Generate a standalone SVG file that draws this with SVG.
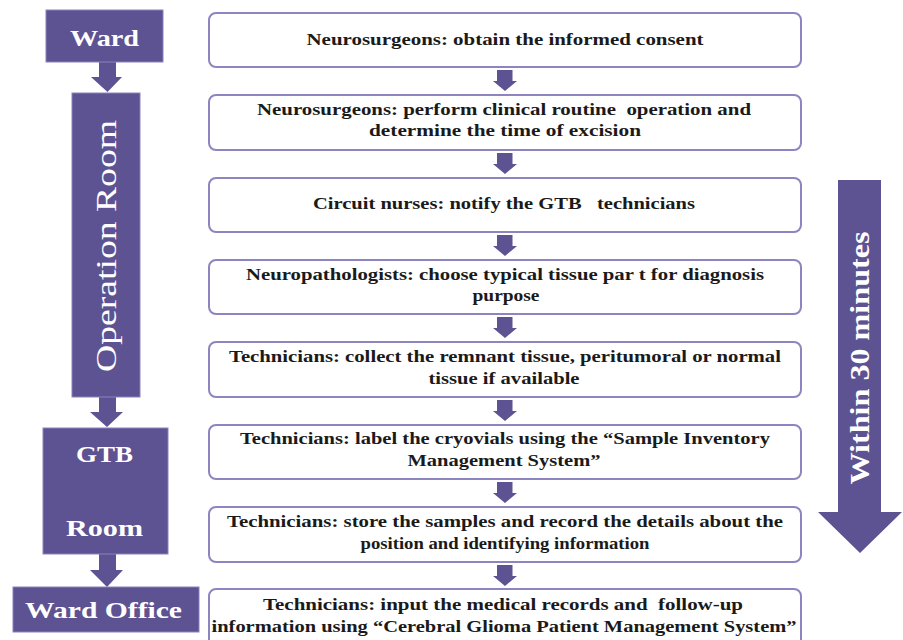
<svg xmlns="http://www.w3.org/2000/svg" width="903" height="640" viewBox="0 0 903 640">
<style>
.loc{fill:#5d5393;stroke:#8a84bd;stroke-width:1}
.arr{fill:#5d5393}
.step{fill:#ffffff;stroke:#8c85c0;stroke-width:2}
.lt{font-family:"Liberation Serif","DejaVu Serif",serif;font-weight:bold;fill:#ffffff;text-anchor:middle}
.st{font-family:"Liberation Serif","DejaVu Serif",serif;font-weight:bold;font-size:17px;fill:#1a1a1a;text-anchor:middle;white-space:pre}
</style>
<defs>
<path id="sa" d="M-8,0 H7.5 V11 H12 L0,21 L-12,11 H-8 Z"/>
</defs>
<rect width="903" height="640" fill="#ffffff"/>

<g id="connectors">
<polygon class="arr" points="99,62 116,62 116,77 122,77 107.5,92 91,77 99,77"/>
<polygon class="arr" points="99,397 116,397 116,412 123,412 107,427 90,412 99,412"/>
<polygon class="arr" points="99,554 116,554 116,570 123,570 107,587 90,570 99,570"/>
<use href="#sa" class="arr" x="505" y="70"/>
<use href="#sa" class="arr" x="505" y="153"/>
<use href="#sa" class="arr" x="505" y="235"/>
<use href="#sa" class="arr" x="505" y="317"/>
<use href="#sa" class="arr" x="505" y="400"/>
<use href="#sa" class="arr" x="505" y="482"/>
<use href="#sa" class="arr" x="505" y="565"/>
</g>

<g id="ward">
<rect class="loc" x="46" y="10" width="117" height="52"/>
<text class="lt" x="104.5" y="46" font-size="24" textLength="69" lengthAdjust="spacingAndGlyphs">Ward</text>
</g>
<g id="operation-room">
<rect class="loc" x="72" y="93" width="68" height="304"/>
<text class="lt" style="font-weight:normal" font-size="29" transform="translate(116,246) rotate(-90)" textLength="252" lengthAdjust="spacingAndGlyphs">Operation Room</text>
</g>
<g id="gtb-room">
<rect class="loc" x="43" y="428" width="125" height="126"/>
<text class="lt" x="104.5" y="462" font-size="24" textLength="57" lengthAdjust="spacingAndGlyphs">GTB</text>
<text class="lt" x="104.5" y="536" font-size="24" textLength="77" lengthAdjust="spacingAndGlyphs">Room</text>
</g>
<g id="ward-office">
<rect class="loc" x="13" y="587" width="186" height="45"/>
<text class="lt" x="103.5" y="618" font-size="24" textLength="157" lengthAdjust="spacingAndGlyphs">Ward Office</text>
</g>

<g id="within-30-minutes">
<polygon class="arr" points="838,180 881,180 881,512 902,512 860,553 818,512 838,512"/>
<text class="lt" font-size="27" transform="translate(869,358) rotate(-90)" textLength="253" lengthAdjust="spacingAndGlyphs">Within 30 minutes</text>
</g>

<g id="step1">
<rect class="step" x="209" y="13" width="592" height="54" rx="7"/>
<text class="st" x="505" y="45" textLength="397" lengthAdjust="spacingAndGlyphs">Neurosurgeons: obtain the informed consent</text>
</g>
<g id="step2">
<rect class="step" x="209" y="95" width="592" height="55" rx="7"/>
<text class="st" x="504" y="115" textLength="494" lengthAdjust="spacingAndGlyphs">Neurosurgeons: perform clinical routine  operation and</text>
<text class="st" x="505" y="136" textLength="272" lengthAdjust="spacingAndGlyphs">determine the time of excision</text>
</g>
<g id="step3">
<rect class="step" x="209" y="178" width="592" height="54" rx="7"/>
<text class="st" x="504" y="209" textLength="382" lengthAdjust="spacingAndGlyphs">Circuit nurses: notify the GTB   technicians</text>
</g>
<g id="step4">
<rect class="step" x="209" y="260" width="592" height="54" rx="7"/>
<text class="st" x="505" y="280" textLength="518" lengthAdjust="spacingAndGlyphs">Neuropathologists: choose typical tissue par t for diagnosis</text>
<text class="st" x="506" y="301" textLength="67" lengthAdjust="spacingAndGlyphs">purpose</text>
</g>
<g id="step5">
<rect class="step" x="209" y="342" width="592" height="55" rx="7"/>
<text class="st" x="505" y="362" textLength="552" lengthAdjust="spacingAndGlyphs">Technicians: collect the remnant tissue, peritumoral or normal</text>
<text class="st" x="504" y="384" textLength="151" lengthAdjust="spacingAndGlyphs">tissue if available</text>
</g>
<g id="step6">
<rect class="step" x="209" y="425" width="592" height="54" rx="7"/>
<text class="st" x="505" y="444" textLength="530" lengthAdjust="spacingAndGlyphs">Technicians: label the cryovials using the “Sample Inventory</text>
<text class="st" x="504" y="466" textLength="193" lengthAdjust="spacingAndGlyphs">Management System”</text>
</g>
<g id="step7">
<rect class="step" x="209" y="507" width="592" height="55" rx="7"/>
<text class="st" x="505" y="527" textLength="556" lengthAdjust="spacingAndGlyphs">Technicians: store the samples and record the details about the</text>
<text class="st" x="505" y="549" textLength="289" lengthAdjust="spacingAndGlyphs">position and identifying information</text>
</g>
<g id="step8">
<rect class="step" x="209" y="589" width="592" height="60" rx="7"/>
<text class="st" x="503" y="610" textLength="480" lengthAdjust="spacingAndGlyphs">Technicians: input the medical records and  follow-up</text>
<text class="st" x="504" y="632" textLength="585" lengthAdjust="spacingAndGlyphs">information using “Cerebral Glioma Patient Management System”</text>
</g>
</svg>
